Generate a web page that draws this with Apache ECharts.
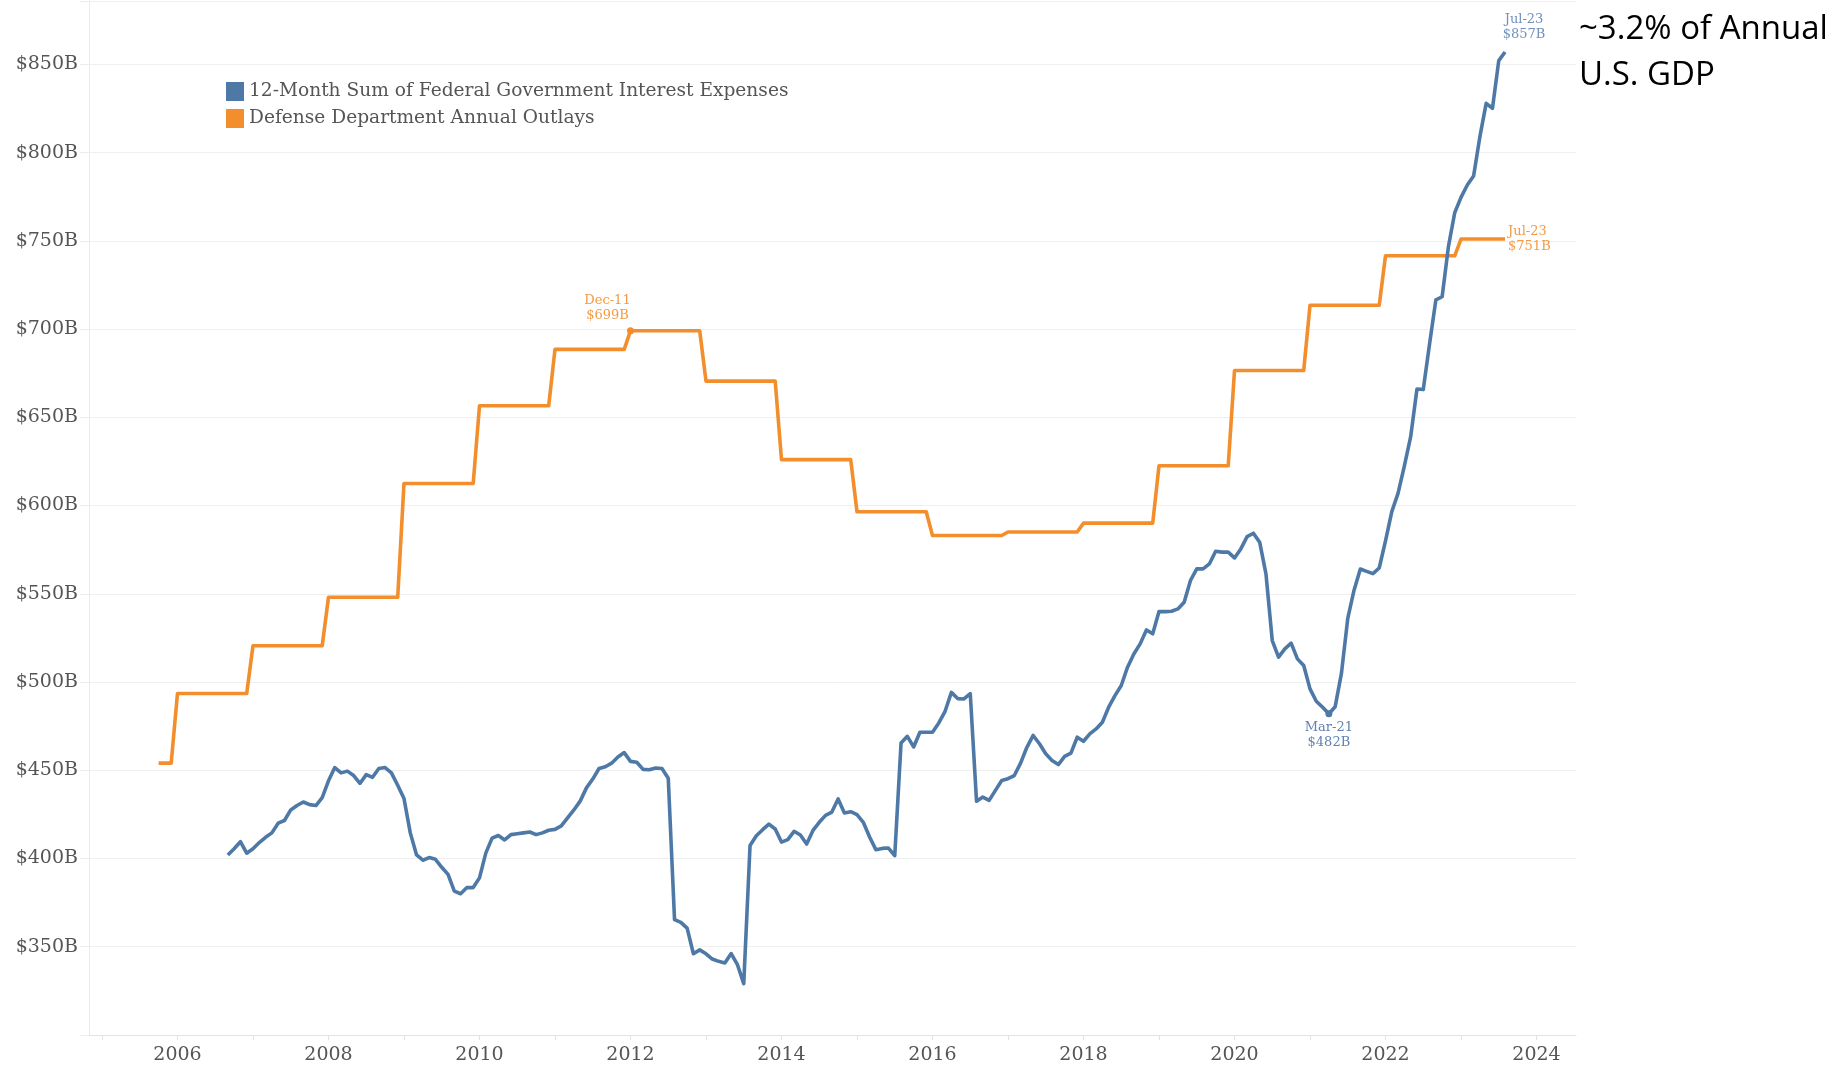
<!DOCTYPE html>
<html><head><meta charset="utf-8">
<script src="https://cdn.jsdelivr.net/npm/echarts@6/dist/echarts.min.js"></script>
<style>html,body{margin:0;padding:0;background:#fff}#c{width:1844px;height:1066px}</style>
</head><body><div id="c"></div>
<script>
// ---------- data ----------
const seriesNames = ['12-Month Sum of Federal Government Interest Expenses', 'Defense Department Annual Outlays'];

// monthly values, first month Aug-2006
const interestStart = '2006-08';
const interestValues = [
  402, 405.5, 409.5, 403, 405.5, 409, 412, 414.5, 420, 421.5,
  427.5, 430, 432, 430.5, 430, 434.5, 444, 451.5, 448.5, 449.5,
  447, 442.5, 447.5, 446, 451, 451.5, 448.5, 441.5, 434, 414.5,
  402, 399, 400.5, 399.5, 395, 391, 381.5, 380, 383.5, 383.5,
  389, 403, 411.5, 413, 410.5, 413.5, 414, 414.5, 415, 413.5,
  414.5, 416, 416.5, 418.5, 423, 427.5, 432.5, 440, 445, 451,
  452, 454, 457.5, 460, 455, 454.5, 450.5, 450.3, 451.3, 451,
  445.5, 365.3, 363.8, 360.5, 346, 348.2, 346, 343, 341.7, 340.8,
  346.1, 339.8, 329.1, 407.3, 412.9, 416.3, 419.5, 416.7, 409.3, 410.7,
  415.4, 413.3, 408.2, 415.9, 420.5, 424.4, 426.3, 433.7, 425.8, 426.5,
  424.8, 420.5, 412.2, 405, 405.7, 405.9, 401.6, 465.4, 469.2, 463.2,
  471.5, 471.5, 471.5, 476.8, 483.4, 494.1, 490.6, 490.4, 493.4, 432.4,
  434.8, 432.9, 438.6, 444.2, 445.2, 447, 454, 463, 469.7, 465,
  459.3, 455.5, 453.2, 457.8, 459.7, 468.7, 466.4, 470.6, 473.4, 477.2,
  485.7, 492.3, 498, 508.4, 515.9, 521.6, 529.5, 527.3, 539.9, 539.9,
  540.1, 541.4, 545.2, 557.5, 564.1, 564.1, 566.9, 574.1, 573.6, 573.6,
  570.3, 575.4, 582.4, 584.3, 579.2, 561.3, 523.5, 514.1, 518.8, 522,
  513.1, 509.3, 496.1, 489.1, 485.7, 482, 486, 505, 536, 552,
  564, 562.7, 561.4, 564.6, 580, 596.5, 607, 622.5, 639, 666,
  665.7, 691.5, 716.5, 718.3, 746.7, 765.9, 774.6, 781.6, 786.7, 809,
  827.9, 825.1, 852.1, 857
];

// corner points of the defense step line
const defenseMonths = ['2005-09','2005-11','2005-12','2006-11','2006-12','2007-11','2007-12','2008-11','2008-12','2009-11',
  '2009-12','2010-11','2010-12','2011-11','2011-12','2012-11','2012-12','2013-11','2013-12','2014-11',
  '2014-12','2015-11','2015-12','2016-11','2016-12','2017-11','2017-12','2018-11','2018-12','2019-11',
  '2019-12','2020-11','2020-12','2021-11','2021-12','2022-11','2022-12','2023-07'];
const defenseValues = [454, 454, 493.5, 493.5, 520.5, 520.5, 548, 548, 612.5, 612.5,
  656.5, 656.5, 688.5, 688.5, 699, 699, 670.5, 670.5, 626, 626,
  596.5, 596.5, 583, 583, 585, 585, 590, 590, 622.5, 622.5,
  676.5, 676.5, 713.5, 713.5, 741.5, 741.5, 751, 751];

const interestLabelMonths = ['2021-03', '2023-07'];
const defenseLabelMonths = ['2011-12', '2023-07'];

const yTickValues = [350, 400, 450, 500, 550, 600, 650, 700, 750, 800, 850];
const xLabelYears = [2006, 2008, 2010, 2012, 2014, 2016, 2018, 2020, 2022, 2024];
const xTickYears = [2005, 2006, 2007, 2008, 2009, 2010, 2011, 2012, 2013, 2014, 2015, 2016, 2017, 2018, 2019, 2020, 2021, 2022, 2023, 2024];
const noteLines = ['~3.2% of Annual', 'U.S. GDP'];

// ---------- helpers ----------
const MONTHS = ['Jan','Feb','Mar','Apr','May','Jun','Jul','Aug','Sep','Oct','Nov','Dec'];
function toX(ym){ const p = ym.split('-').map(Number); return p[0] + p[1] / 12; }
function ymLabel(ym){ const p = ym.split('-').map(Number); return MONTHS[p[1]-1] + '-' + String(p[0] % 100).padStart(2, '0'); }
function monthSeq(start, n){
  const p = start.split('-').map(Number); const out = [];
  for (let i = 0; i < n; i++){ const k = p[1] - 1 + i; out.push((p[0] + Math.floor(k / 12)) + '-' + String(k % 12 + 1).padStart(2, '0')); }
  return out;
}
const interestMonths = monthSeq(interestStart, interestValues.length);

const BLUE = '#4e79a7', ORANGE = '#f28e2b';
const SERIF = 'DejaVu Serif';

const labelStyle = {
  '2021-03|i': {position: 'bottom', distance: 3, offset: [0, 0], dot: true, color: '#5f82b3'},
  '2023-07|i': {position: 'top', distance: 10, offset: [19, 0], dot: false, color: '#6f90bf'},
  '2011-12|d': {position: 'top', distance: 4, offset: [-23, 0], dot: true, color: '#f29a45'},
  '2023-07|d': {position: 'right', distance: 3, offset: [0, 0], dot: false, color: '#f29a45'}
};

function buildData(months, values, labelMonths, key){
  return months.map((ym, i) => {
    const item = {value: [toX(ym), values[i]]};
    if (labelMonths.indexOf(ym) >= 0){
      const L = labelStyle[ym + '|' + key];
      item.symbol = 'circle';
      item.symbolSize = L.dot ? 7 : 0;
      item.label = {
        show: true, position: L.position, distance: L.distance, offset: L.offset,
        formatter: ymLabel(ym) + '\n$' + Math.round(values[i]) + 'B',
        color: L.color, fontFamily: SERIF, fontSize: 13, lineHeight: 15
      };
    }
    return item;
  });
}

// ---------- chart ----------
const chart = echarts.init(document.getElementById('c'), null, {renderer: 'canvas'});
chart.setOption({
  animation: false,
  backgroundColor: '#fff',
  grid: {left: 89, right: 268, top: 0.8, bottom: 31.06, containLabel: false},
  legend: {
    orient: 'vertical', left: 221, top: 77, itemWidth: 18, itemHeight: 19, itemGap: 8,
    icon: 'rect', selectedMode: false,
    textStyle: {fontFamily: SERIF, fontSize: 18.6, color: '#555'},
    data: [seriesNames[0], seriesNames[1]]
  },
  xAxis: {
    type: 'value', min: 2004.828, max: 2024.523,
    axisLine: {show: true, lineStyle: {color: '#e2e2e2', width: 1}},
    axisTick: {show: true, customValues: xTickYears, length: 5, lineStyle: {color: '#e2e2e2'}},
    axisLabel: {customValues: xLabelYears, formatter: v => String(v), fontFamily: SERIF, fontSize: 19, color: '#555', margin: 11},
    splitLine: {show: false}
  },
  yAxis: {
    type: 'value', min: 300, max: 886, interval: 50,
    axisLine: {show: true, lineStyle: {color: '#ebebeb', width: 1}},
    axisTick: {show: true, length: 9, lineStyle: {color: '#ededed'}},
    axisLabel: {
      fontFamily: SERIF, fontSize: 19, color: '#555', margin: 11,
      formatter: v => (yTickValues.indexOf(v) >= 0 ? '$' + v + 'B' : '')
    },
    splitLine: {show: true, lineStyle: {color: '#efefef', width: 1}}
  },
  series: [
    {
      name: seriesNames[1], type: 'line', color: ORANGE,
      data: buildData(defenseMonths, defenseValues, defenseLabelMonths, 'd'),
      showSymbol: true, symbol: 'circle', symbolSize: 0,
      itemStyle: {color: ORANGE},
      lineStyle: {color: ORANGE, width: 3.6, join: 'round'},
      z: 2
    },
    {
      name: seriesNames[0], type: 'line', color: BLUE,
      data: buildData(interestMonths, interestValues, interestLabelMonths, 'i'),
      showSymbol: true, symbol: 'circle', symbolSize: 0,
      itemStyle: {color: BLUE},
      lineStyle: {color: BLUE, width: 3.6, join: 'round'},
      z: 3
    }
  ],
  graphic: [
    {type: 'text', left: 1579, top: 13, style: {text: noteLines[0], font: '33px "Open Sans"', fill: '#000'}},
    {type: 'text', left: 1579, top: 59, style: {text: noteLines[1], font: '33px "Open Sans"', fill: '#000'}}
  ]
});
</script>
</body></html>
